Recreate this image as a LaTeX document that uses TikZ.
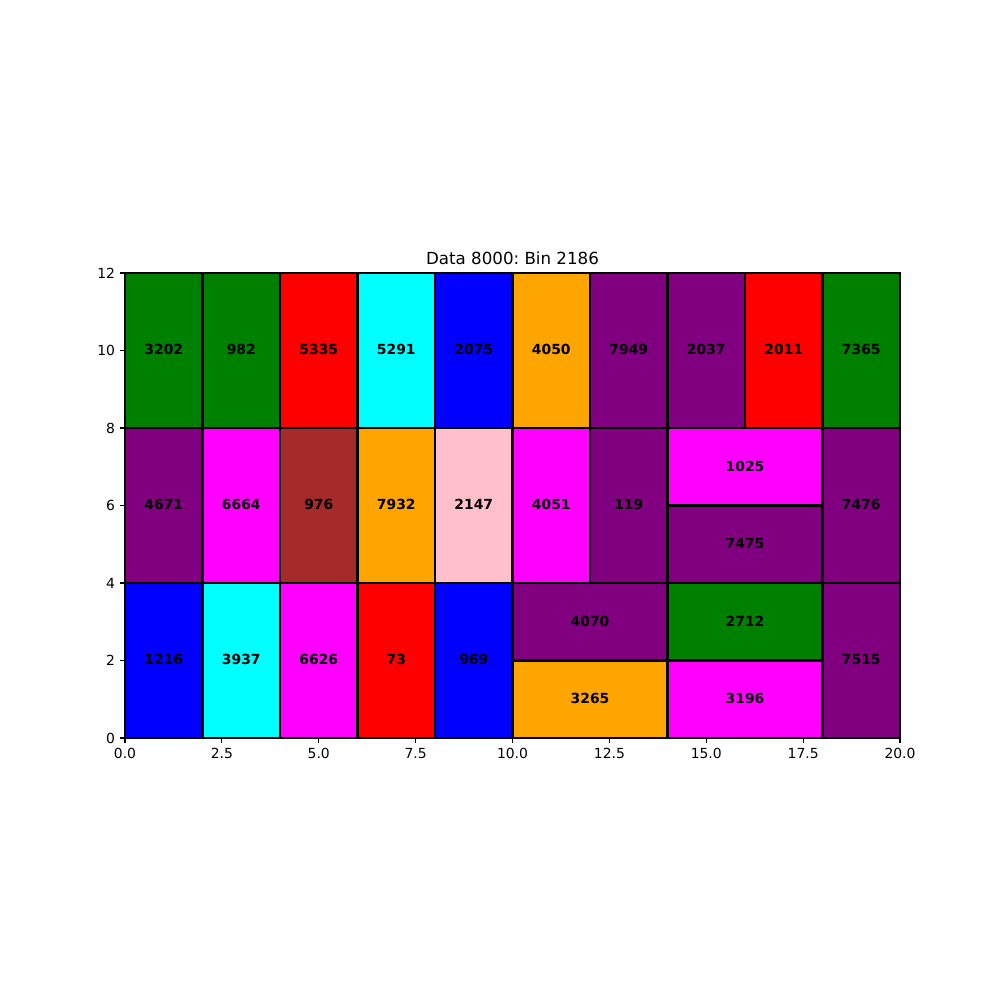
\documentclass[tikz,border=0pt]{standalone}
\usepackage{fontspec}
\setmainfont{DejaVu Sans}
\frenchspacing
\definecolor{mgreen}{HTML}{008000}
\definecolor{mred}{HTML}{FF0000}
\definecolor{mcyan}{HTML}{00FFFF}
\definecolor{mblue}{HTML}{0000FF}
\definecolor{morange}{HTML}{FFA500}
\definecolor{mpurple}{HTML}{800080}
\definecolor{mmagenta}{HTML}{FF00FF}
\definecolor{mbrown}{HTML}{A52A2A}
\definecolor{mpink}{HTML}{FFC0CB}
\tikzset{
  binrect/.style={draw=black, line width=2pt},
  binlabel/.style={font=\fontsize{10}{12}\selectfont\bfseries, inner sep=0pt, text=black},
  ticklabel/.style={font=\fontsize{10}{12}\selectfont, inner sep=0pt},
  spine/.style={line width=0.8pt, line cap=rect},
}
\begin{document}
\begin{tikzpicture}
\useasboundingbox (0,0) rectangle (720pt,720pt);
\begin{scope}[shift={(90pt,188.64pt)}, x=27.9pt, y=27.9pt]
\foreach \xa/\ya/\xb/\yb/\col/\lab/\nm in {
 0/8/2/12/mgreen/3202/r1, 2/8/4/12/mgreen/982/r2, 4/8/6/12/mred/5335/r3,
 6/8/8/12/mcyan/5291/r4, 8/8/10/12/mblue/2075/r5, 10/8/12/12/morange/4050/r6,
 12/8/14/12/mpurple/7949/r7, 14/8/16/12/mpurple/2037/r8, 16/8/18/12/mred/2011/r9,
 18/8/20/12/mgreen/7365/r10,
 0/4/2/8/mpurple/4671/r11, 2/4/4/8/mmagenta/6664/r12, 4/4/6/8/mbrown/976/r13,
 6/4/8/8/morange/7932/r14, 8/4/10/8/mpink/2147/r15, 10/4/12/8/mmagenta/4051/r16,
 12/4/14/8/mpurple/119/r17, 14/6/18/8/mmagenta/1025/r18, 14/4/18/6/mpurple/7475/r19,
 18/4/20/8/mpurple/7476/r20,
 0/0/2/4/mblue/1216/r21, 2/0/4/4/mcyan/3937/r22, 4/0/6/4/mmagenta/6626/r23,
 6/0/8/4/mred/73/r24, 8/0/10/4/mblue/969/r25, 10/2/14/4/mpurple/4070/r26,
 10/0/14/2/morange/3265/r27, 14/2/18/4/mgreen/2712/r28, 14/0/18/2/mmagenta/3196/r29,
 18/0/20/4/mpurple/7515/r30} {
  \draw[binrect, fill=\col] (\xa,\ya) rectangle (\xb,\yb);
  \node[binlabel] (\nm) at ({(\xa+\xb)/2},{(\ya+\yb)/2+0.02}) {\lab};
}
\draw[spine] (0,0) rectangle (20,12);
\foreach \v/\t in {0/0.0, 2.5/2.5, 5/5.0, 7.5/7.5, 10/10.0, 12.5/12.5, 15/15.0, 17.5/17.5, 20/20.0} {
  \draw[line width=0.8pt] (\v,0) -- ++(0,-3.5pt);
  \node[ticklabel, anchor=north] (xt\v) at ([yshift=-7pt]\v,0) {\t};
}
\foreach \v in {0,2,4,6,8,10,12} {
  \draw[line width=0.8pt] (0,\v) -- ++(-3.5pt,0);
  \node[ticklabel, anchor=east] (yt\v) at ([xshift=-7pt]0,\v) {\v};
}
\node[font=\fontsize{12}{14}\selectfont, anchor=base, inner sep=0pt] (title) at ([yshift=6pt]10,12) {Data 8000: Bin 2186};
\end{scope}
\end{tikzpicture}
\end{document}
